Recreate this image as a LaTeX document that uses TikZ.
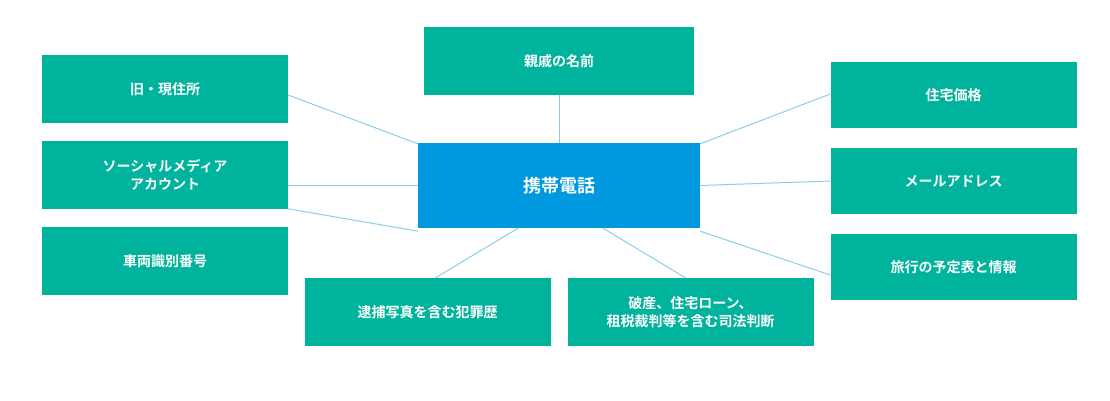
\documentclass[tikz,border=0pt]{standalone}
\usepackage{fontspec}
\setmainfont{Noto Sans CJK JP}[BoldFont={* Bold}]
\usepackage{tikz}
\definecolor{boxgreen}{HTML}{00B39C}
\definecolor{boxblue}{HTML}{0099DF}
\definecolor{linkblue}{HTML}{8CCDEB}
\tikzset{
    item/.style = {fill = boxgreen, text = white, font = \fontsize{14}{18}\selectfont\bfseries,
        minimum width = 246pt, minimum height = 68pt, align = center, inner sep = 0},
    link/.style = {draw = linkblue, line width = 1pt}
}

\begin{document}
\begin{tikzpicture}[x = 1pt, y = -1pt]
    \useasboundingbox (0, 0) rectangle (1110, 400);
    \node[item, fill = boxblue, minimum width = 282pt, minimum height = 85pt,
        font = \fontsize{18}{22}\selectfont\bfseries] (phone) at (559, 185.5) {携帯電話};

    \node[item, minimum width = 270pt] (kin) at (559, 61) {親戚の名前};
    \node[item] (addr) at (165, 89) {旧・現住所};
    \node[item] (sns) at (165, 175) {ソーシャルメディア\\アカウント};
    \node[item] (car) at (165, 261) {車両識別番号};
    \node[item] (arrest) at (427.5, 312) {逮捕写真を含む犯罪歴};
    \node[item] (court) at (690.5, 312) {破産、住宅ローン、\\租税裁判等を含む司法判断};
    \node[item, minimum height = 66pt] (price) at (953.5, 95) {住宅価格};
    \node[item, minimum height = 66pt] (mail) at (953.5, 181) {メールアドレス};
    \node[item, minimum height = 66pt] (trip) at (953.5, 267) {旅行の予定表と情報};

    % links
    \draw[link] (kin) -- (phone);
    \draw[link] ([yshift = -6pt] addr.east) -- ([yshift = -1pt] phone.north west);
    \draw[link] (sns.east |- phone.west) -- (phone.west);
    \draw[link] ([yshift = 18pt] car.north east) -- ([yshift = -3pt] phone.south west);
    \draw[link] ([xshift = 8pt] arrest.north) -- ([xshift = -41pt] phone.south);
    \draw[link] ([xshift = -5pt] court.north) -- ([xshift = 44pt] phone.south);
    \draw[link] ([yshift = 1pt] price.west) -- ([yshift = -1pt] phone.north east);
    \draw[link] (mail.west) -- (phone.east);
    \draw[link] ([yshift = -8pt] trip.west) -- ([yshift = -3pt] phone.south east);
\end{tikzpicture}
\end{document}
